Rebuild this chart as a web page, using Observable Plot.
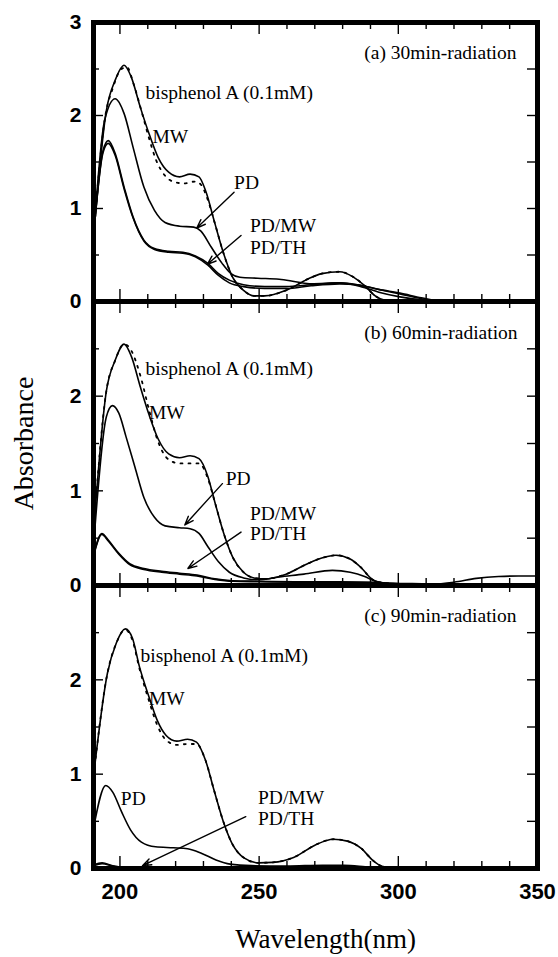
<!DOCTYPE html>
<html>
<head>
<meta charset="utf-8">
<script src="https://cdn.jsdelivr.net/npm/d3@7"></script>
<script src="https://cdn.jsdelivr.net/npm/@observablehq/plot@0.6"></script>
<style>
  body { margin: 0; background: white; }
  #chart { position: relative; width: 558px; height: 957px; overflow: hidden; background: white; }
  #chart svg { position: absolute; left: 0; }
</style>
</head>
<body>
<div id="chart"></div>
<script>
// ---------- data: [wavelength nm, absorbance] ----------
// panel (a) 30 min
const bpaA = [[190.6,0.73],[195.1,2.05],[198.3,2.38],[201.5,2.54],[204.1,2.41],[207.3,2.09],[210.5,1.80],[213.7,1.55],[217.5,1.39],[221.4,1.34],[225.2,1.37],[228.4,1.34],[230.9,1.18],[234.1,0.84],[237.3,0.51],[240.5,0.26],[244.4,0.12],[248.2,0.06],[252.0,0.06],[259.7,0.12],[267.4,0.24],[272.5,0.30],[278.9,0.32],[284.0,0.26],[287.9,0.17],[291.7,0.06],[295.5,0.01],[300,0],[350,0]];
const mwA = [[190.6,0.73],[194.5,1.95],[197.5,2.30],[200.5,2.50],[202.5,2.52],[205.0,2.33],[208.0,2.02],[210.5,1.75],[213.0,1.52],[216.0,1.36],[219.0,1.29],[223.0,1.27],[227.0,1.29],[229.0,1.26],[231.0,1.14],[234.1,0.84],[237.3,0.51],[240.5,0.26],[244.4,0.12],[248.2,0.06],[252.0,0.06],[259.7,0.12],[267.4,0.24],[272.5,0.30],[278.9,0.32],[284.0,0.26],[287.9,0.17],[291.7,0.06],[295.5,0.01],[300,0]];
const pdA = [[190.6,0.73],[194.5,1.95],[198.3,2.18],[201.5,2.02],[204.7,1.66],[208.6,1.23],[212.4,0.98],[216.2,0.85],[221.4,0.81],[226.5,0.80],[229.0,0.76],[232.9,0.58],[236.7,0.41],[239.9,0.30],[243.1,0.26],[249.5,0.25],[257.2,0.24],[263.6,0.21],[268.7,0.19],[278.9,0.20],[286.6,0.16],[293.0,0.10],[300.6,0.05],[310.9,0.01],[320,0],[350,0]];
const pdmwA = [[190.6,0.73],[193.9,1.62],[195.8,1.73],[198.3,1.59],[201.5,1.23],[204.7,0.91],[208.6,0.66],[212.4,0.57],[217.5,0.54],[222.6,0.53],[227.1,0.49],[231.6,0.41],[235.4,0.30],[239.3,0.23],[244.4,0.18],[252.0,0.16],[259.7,0.16],[268.7,0.18],[278.9,0.20],[285.3,0.18],[293.0,0.13],[300.6,0.08],[308.3,0.03],[314.7,0.0],[350,0]];
const pdthA = [[190.6,0.73],[193.9,1.60],[195.8,1.70],[198.3,1.57],[201.5,1.21],[204.7,0.90],[208.6,0.65],[212.4,0.56],[217.5,0.53],[222.6,0.52],[227.1,0.48],[231.6,0.39],[235.4,0.28],[239.3,0.20],[244.4,0.16],[252.0,0.14],[259.7,0.14],[268.7,0.17],[278.9,0.19],[285.3,0.18],[293.0,0.13],[300.6,0.09],[308.3,0.04],[316,0.0],[350,0]];

// panel (b) 60 min
const bpaB = [[190.6,0.60],[195.1,2.05],[198.3,2.38],[201.5,2.55],[204.1,2.42],[207.3,2.10],[210.5,1.80],[213.7,1.55],[217.5,1.39],[221.4,1.35],[225.2,1.37],[228.4,1.34],[231.6,1.15],[234.1,0.88],[237.3,0.55],[240.5,0.30],[244.4,0.14],[248.2,0.08],[252.0,0.07],[259.7,0.12],[267.4,0.23],[272.5,0.29],[277.6,0.32],[282.7,0.28],[286.6,0.19],[290.4,0.07],[293.0,0.035],[298.1,0.02],[305,0.02],[312,0.015],[320,0.035],[328,0.075],[336,0.095],[343,0.10],[350,0.10]];
const mwB = [[190.6,0.60],[195.1,2.05],[198.3,2.38],[201.5,2.55],[204.1,2.48],[207.3,2.22],[210.5,1.85],[213.7,1.52],[217.5,1.33],[221.4,1.29],[225.2,1.29],[228.4,1.29],[231.6,1.13],[234.1,0.88],[237.3,0.55],[240.5,0.30],[244.4,0.14],[248.2,0.08],[252.0,0.07],[259.7,0.12],[267.4,0.23],[272.5,0.29],[277.6,0.32],[282.7,0.28],[286.6,0.19],[290.4,0.07],[293.0,0.035],[298.1,0.02]];
const pdB = [[190.6,0.45],[195.1,1.78],[197.3,1.90],[199.6,1.82],[202.2,1.57],[205.4,1.25],[208.6,0.93],[212.4,0.72],[216.2,0.63],[221.4,0.61],[225.2,0.60],[228.4,0.55],[231.6,0.41],[235.4,0.25],[239.3,0.14],[244.4,0.08],[249.5,0.06],[257.2,0.09],[266.1,0.12],[276.3,0.16],[282.7,0.14],[287.9,0.095],[291.7,0.045],[298.1,0.02],[310,0.01]];
const pdmwB = [[190.6,0.33],[193.5,0.55],[195.8,0.48],[199.6,0.34],[203.5,0.23],[208.6,0.18],[215.0,0.15],[221.4,0.13],[227.7,0.11],[234.1,0.07],[240.5,0.05],[249.5,0.045],[266.1,0.04],[278.9,0.04],[290.4,0.035],[298.1,0.02],[310,0.01]];
const pdthB = [[190.6,0.32],[193.5,0.54],[195.8,0.47],[199.6,0.33],[203.5,0.22],[208.6,0.17],[215.0,0.14],[221.4,0.12],[227.7,0.10],[234.1,0.065],[240.5,0.045],[249.5,0.04],[266.1,0.035],[278.9,0.035],[290.4,0.03],[298.1,0.02],[310,0.01]];

// panel (c) 90 min
const bpaC = [[190.6,1.00],[195.5,2.07],[198.7,2.39],[201.9,2.54],[204.5,2.44],[207.0,2.14],[210.2,1.84],[213.4,1.57],[216.6,1.41],[220.4,1.35],[224.3,1.37],[227.5,1.34],[230.7,1.15],[233.8,0.83],[237.0,0.51],[240.2,0.27],[244.7,0.11],[249.8,0.06],[254.9,0.065],[262.6,0.12],[270.2,0.25],[276.6,0.31],[281.7,0.29],[286.8,0.21],[290.7,0.09],[294.5,0.02],[300,0]];
const mwC = [[190.6,1.00],[195.5,2.07],[198.7,2.39],[201.9,2.53],[204.5,2.42],[207.0,2.12],[210.2,1.80],[213.4,1.52],[216.6,1.36],[220.4,1.31],[224.3,1.32],[227.5,1.32],[230.7,1.15],[233.8,0.83],[237.0,0.51],[240.2,0.27],[244.7,0.11],[249.8,0.06],[254.9,0.065],[262.6,0.12],[270.2,0.25],[276.6,0.31],[281.7,0.29],[286.8,0.21],[290.7,0.09],[294.5,0.02],[300,0]];
const pdC = [[190.6,0.44],[194.9,0.88],[197.4,0.81],[200.6,0.60],[203.8,0.41],[207.7,0.28],[212.8,0.23],[219.2,0.22],[224.3,0.21],[229.4,0.16],[234.5,0.09],[239.6,0.046],[247.3,0.03],[260.0,0.025],[272.8,0.035],[280.5,0.035],[288.1,0.018],[294.5,0]];
const pdmwC = [[190.6,0.04],[193.6,0.06],[197.4,0.03],[202.6,0.01],[208,0.0],[230,0.0],[250,0.005],[280,0.01],[295,0]];
const pdthC = [[190.6,0.03],[193.6,0.05],[197.4,0.025],[202.6,0.008],[208,0.0],[295,0]];

// ticks
const xMajor = [200, 250, 300, 350];
const xMinor = [210, 220, 230, 240, 260, 270, 280, 290, 310, 320, 330, 340];
const yMajor = [0, 1, 2, 3];
const yMinor = [0.5, 1.5, 2.5];
const yLabelsTop = [0, 1, 2, 3];
const yLabelsOther = [0, 1, 2];

// annotations
const textsA = [
  {x: 287.8, y: 2.67, t: "(a) 30min-radiation"},
  {x: 209.2, y: 2.24, t: "bisphenol A (0.1mM)"},
  {x: 211.7, y: 1.77, t: "MW"},
  {x: 241.0, y: 1.28, t: "PD"},
  {x: 246.7, y: 0.81, t: "PD/MW"},
  {x: 246.7, y: 0.58, t: "PD/TH"}
];
const arrowsA = [
  {x1: 241.0, y1: 1.175, x2: 227.6, y2: 0.79},
  {x1: 243.5, y1: 0.71, x2: 231.4, y2: 0.40}
];
const textsB = [
  {x: 287.8, y: 2.67, t: "(b) 60min-radiation"},
  {x: 209.2, y: 2.29, t: "bisphenol A (0.1mM)"},
  {x: 210.4, y: 1.83, t: "MW"},
  {x: 238.0, y: 1.13, t: "PD"},
  {x: 246.7, y: 0.76, t: "PD/MW"},
  {x: 246.7, y: 0.55, t: "PD/TH"}
];
const arrowsB = [
  {x1: 236.8, y1: 1.076, x2: 223.3, y2: 0.64},
  {x1: 243.5, y1: 0.564, x2: 224.4, y2: 0.18}
];
const textsC = [
  {x: 287.8, y: 2.68, t: "(c) 90min-radiation"},
  {x: 207.4, y: 2.26, t: "bisphenol A (0.1mM)"},
  {x: 210.4, y: 1.80, t: "MW"},
  {x: 200.3, y: 0.74, t: "PD"},
  {x: 249.6, y: 0.75, t: "PD/MW"},
  {x: 249.6, y: 0.53, t: "PD/TH"}
];
const arrowsC = [
  {x1: 245.2, y1: 0.55, x2: 208.1, y2: 0.03}
];

// ---------- drawing ----------
const W = 558, ML = 93, MR = 21;
const XD = [190.5, 350], YD = [0, 3];
const SERIF = "Liberation Serif, Times New Roman, serif";
const SANS = "Liberation Sans, Arial, sans-serif";

function panel({solid, dotted, texts, arrows, yLabels, top, height, mt, mb, extra = []}) {
  const ph = height - mt - mb;
  const yU = (YD[1] - YD[0]) / ph;          // data units per px (y)
  const xU = (XD[1] - XD[0]) / (W - ML - MR); // data units per px (x)
  const lineOpts = {x: d => d[0], y: d => d[1], curve: "monotone-x", strokeWidth: 1.6, clip: true};
  const svg = Plot.plot({
    width: W, height,
    marginLeft: ML, marginRight: MR, marginTop: mt, marginBottom: mb,
    x: {domain: XD, axis: null},
    y: {domain: YD, axis: null},
    style: {background: "transparent", overflow: "visible"},
    marks: [
      ...solid.map(s => Plot.line(s, lineOpts)),
      ...dotted.map(s => Plot.line(s, {...lineOpts, strokeWidth: 1.8, strokeDasharray: "2 6"})),
      // x ticks (inward, bottom and top)
      Plot.ruleX(xMajor, {x: d => d, y1: YD[0], y2: YD[0] + 12 * yU, strokeWidth: 1.4}),
      Plot.ruleX(xMinor, {x: d => d, y1: YD[0], y2: YD[0] + 7 * yU, strokeWidth: 1.4}),
      Plot.ruleX(xMajor, {x: d => d, y1: YD[1], y2: YD[1] - 12 * yU, strokeWidth: 1.4}),
      Plot.ruleX(xMinor, {x: d => d, y1: YD[1], y2: YD[1] - 7 * yU, strokeWidth: 1.4}),
      // y ticks (inward, left and right)
      Plot.ruleY(yMajor, {y: d => d, x1: XD[0], x2: XD[0] + 10 * xU, strokeWidth: 1.4}),
      Plot.ruleY(yMinor, {y: d => d, x1: XD[0], x2: XD[0] + 6 * xU, strokeWidth: 1.4}),
      Plot.ruleY(yMajor.concat(yMinor), {y: d => d, x1: XD[1], x2: XD[1] - 10 * xU, strokeWidth: 1.4}),
      Plot.frame({strokeWidth: 5}),
      Plot.text(yLabels, {y: d => d, text: d => String(d), frameAnchor: "left", dx: -12, textAnchor: "end",
        lineAnchor: "middle", fontSize: 21, fontWeight: "bold", fontFamily: SANS}),
      Plot.text(texts, {x: "x", y: "y", text: "t", textAnchor: "start", lineAnchor: "middle",
        fontSize: 19.5, fontFamily: SERIF}),
      Plot.arrow(arrows, {x1: "x1", y1: "y1", x2: "x2", y2: "y2", headLength: 10, headAngle: 40, strokeWidth: 1.4}),
      ...extra
    ]
  });
  svg.style.top = top + "px";
  return svg;
}

const chart = document.getElementById("chart");

chart.appendChild(panel({
  solid: [bpaA, pdA, pdmwA, pdthA], dotted: [mwA],
  texts: textsA, arrows: arrowsA, yLabels: yLabelsTop,
  top: 0, height: 311, mt: 22, mb: 10
}));

chart.appendChild(panel({
  solid: [bpaB, pdB, pdmwB, pdthB], dotted: [mwB],
  texts: textsB, arrows: arrowsB, yLabels: yLabelsOther,
  top: 291, height: 304, mt: 10, mb: 10,
  extra: [
    Plot.text(["Absorbance"], {frameAnchor: "left", dx: -69, rotate: -90, textAnchor: "middle",
      lineAnchor: "middle", fontSize: 28, fontFamily: SERIF})
  ]
}));

chart.appendChild(panel({
  solid: [bpaC, pdC, pdmwC, pdthC], dotted: [mwC],
  texts: textsC, arrows: arrowsC, yLabels: yLabelsOther,
  top: 575, height: 382, mt: 10, mb: 89,
  extra: [
    Plot.text(xMajor, {x: d => d, text: d => String(d), frameAnchor: "bottom", dy: 23, lineAnchor: "middle",
      fontSize: 22, fontWeight: "bold", fontFamily: SANS}),
    Plot.text(["Wavelength(nm)"], {frameAnchor: "bottom", dy: 71, dx: 10, lineAnchor: "middle",
      fontSize: 27, fontFamily: SERIF})
  ]
}));
</script>
</body>
</html>
